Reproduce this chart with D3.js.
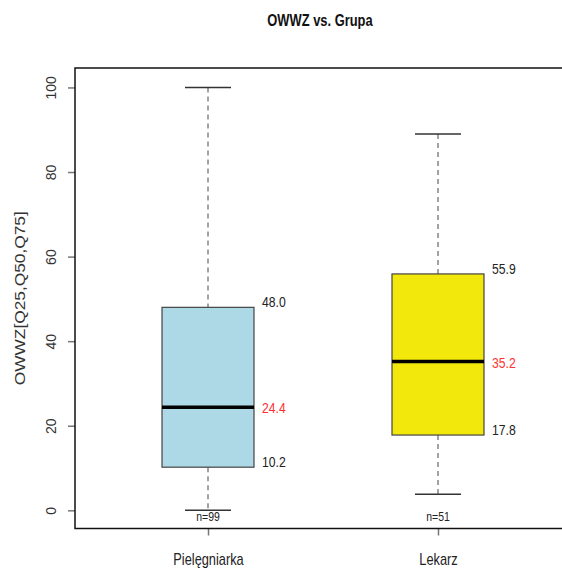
<!DOCTYPE html>
<html>
<head>
<meta charset="utf-8">
<script src="https://cdn.jsdelivr.net/npm/d3@7"></script>
<style>
  html, body { margin: 0; padding: 0; background: #fff; }
  svg { display: block; }
  text { font-family: "Liberation Sans", Arial, sans-serif; }
</style>
</head>
<body>
<svg id="chart" width="562" height="569"></svg>
<script>
// Group data: whiskers, quartiles, median, counts
const groups    = ["Pielęgniarka", "Lekarz"];
const whiskLow  = [0, 3.8];
const q25       = [10.2, 17.8];
const q50       = [24.4, 35.2];
const q75       = [48.0, 55.9];
const whiskHigh = [100, 89];
const counts    = [99, 51];
const fills     = ["#ADD8E6", "#F2E80C"];
const yTicks    = [0, 20, 40, 60, 80, 100];

const svg = d3.select("#chart");
const plot = { left: 75, top: 68, bottom: 528.5, right: 571 };

// x: group positions 1..n, padded so the frame runs past the right edge
const x = d3.scaleLinear().domain([0.4217, 2.5783]).range([plot.left, plot.right]);
const y = d3.scaleLinear().domain([-4.3, 104.6]).range([plot.bottom, plot.top]);

const boxW = 92, capW = 46;

// Condensed text placed at (px, py)
function narrowText(parent, px, py, str, opts) {
  const s = opts.squeeze || 0.84;
  return parent.append("text")
    .attr("transform", `translate(${px},${py}) scale(${s},1)`)
    .attr("text-anchor", opts.anchor || "start")
    .attr("dy", opts.dy || null)
    .style("font-size", opts.size + "px")
    .style("font-weight", opts.weight || "normal")
    .attr("fill", opts.fill || "#222")
    .text(str);
}

// Title
narrowText(svg, 320, 26, "OWWZ vs. Grupa", { anchor: "middle", size: 17, weight: "bold", fill: "#111", squeeze: 0.76 });

// Y axis
const yAxis = d3.axisLeft(y).tickValues(yTicks).tickSize(7).tickFormat(d3.format("d"));
const gy = svg.append("g").attr("transform", `translate(${plot.left},0)`).call(yAxis);
gy.select(".domain").remove();
gy.selectAll(".tick line").attr("stroke", "#777").attr("stroke-width", 1.5);
gy.selectAll(".tick text")
  .attr("text-anchor", "middle")
  .attr("transform", "translate(-24,0) rotate(-90)")
  .attr("x", 0).attr("y", 0).attr("dy", "0.35em")
  .style("font-size", "14px")
  .attr("fill", "#333");

// Y axis title
svg.append("text")
  .attr("transform", `translate(25,${(plot.top + plot.bottom) / 2}) rotate(-90)`)
  .attr("text-anchor", "middle")
  .style("font-size", "15px")
  .attr("textLength", 174)
  .attr("lengthAdjust", "spacingAndGlyphs")
  .attr("fill", "#333")
  .text("OWWZ[Q25,Q50,Q75]");

// X axis
const xAxis = d3.axisBottom(x).tickValues([1, 2]).tickSize(7).tickFormat(() => "");
const gx = svg.append("g").attr("transform", `translate(0,${plot.bottom})`).call(xAxis);
gx.select(".domain").remove();
gx.selectAll(".tick line").attr("stroke", "#777").attr("stroke-width", 1.5);
gx.selectAll(".tick").each(function(d) {
  narrowText(d3.select(this), 0, 36, groups[d - 1], { anchor: "middle", size: 16, fill: "#222", squeeze: 0.8 });
});

// Plot frame
svg.append("rect")
  .attr("x", plot.left).attr("y", plot.top)
  .attr("width", plot.right - plot.left).attr("height", plot.bottom - plot.top)
  .attr("fill", "none").attr("stroke", "#111").attr("stroke-width", 1.5);

// Boxes
const data = groups.map((g, i) => ({
  i, pos: i + 1, lo: whiskLow[i], q1: q25[i], med: q50[i], q3: q75[i], hi: whiskHigh[i], n: counts[i], fill: fills[i]
}));

const bg = svg.append("g").selectAll("g").data(data).join("g");

// Whisker stems (dashed)
bg.append("line")
  .attr("x1", d => x(d.pos)).attr("x2", d => x(d.pos))
  .attr("y1", d => y(d.hi)).attr("y2", d => y(d.q3))
  .attr("stroke", "#666").attr("stroke-width", 1.2).attr("stroke-dasharray", "5,4");
bg.append("line")
  .attr("x1", d => x(d.pos)).attr("x2", d => x(d.pos))
  .attr("y1", d => y(d.q1)).attr("y2", d => y(d.lo))
  .attr("stroke", "#666").attr("stroke-width", 1.2).attr("stroke-dasharray", "5,4");

// Whisker caps
bg.append("line")
  .attr("x1", d => x(d.pos) - capW / 2).attr("x2", d => x(d.pos) + capW / 2)
  .attr("y1", d => y(d.hi)).attr("y2", d => y(d.hi))
  .attr("stroke", "#333").attr("stroke-width", 1.5);
bg.append("line")
  .attr("x1", d => x(d.pos) - capW / 2).attr("x2", d => x(d.pos) + capW / 2)
  .attr("y1", d => y(d.lo)).attr("y2", d => y(d.lo))
  .attr("stroke", "#333").attr("stroke-width", 1.5);

// Box body
bg.append("rect")
  .attr("x", d => x(d.pos) - boxW / 2).attr("width", boxW)
  .attr("y", d => y(d.q3)).attr("height", d => y(d.q1) - y(d.q3))
  .attr("fill", d => d.fill).attr("stroke", "#444").attr("stroke-width", 1.2);

// Median
bg.append("line")
  .attr("x1", d => x(d.pos) - boxW / 2).attr("x2", d => x(d.pos) + boxW / 2)
  .attr("y1", d => y(d.med)).attr("y2", d => y(d.med))
  .attr("stroke", "#000").attr("stroke-width", 3.5);

// Quartile and median labels, plus group counts
bg.each(function(d) {
  const g = d3.select(this);
  const lx = x(d.pos) + boxW / 2 + 8;
  narrowText(g, lx, y(d.q3) - 5, d.q3.toFixed(1), { size: 14.5, dy: "0.35em", fill: "#222" });
  narrowText(g, lx, y(d.med) + 1, d.med.toFixed(1), { size: 14.5, dy: "0.35em", fill: "#FF3030" });
  narrowText(g, lx, y(d.q1) - 5, d.q1.toFixed(1), { size: 14.5, dy: "0.35em", fill: "#222" });
  narrowText(g, x(d.pos), 521, "n=" + d.n, { anchor: "middle", size: 12.5, fill: "#222" });
});
</script>
</body>
</html>
